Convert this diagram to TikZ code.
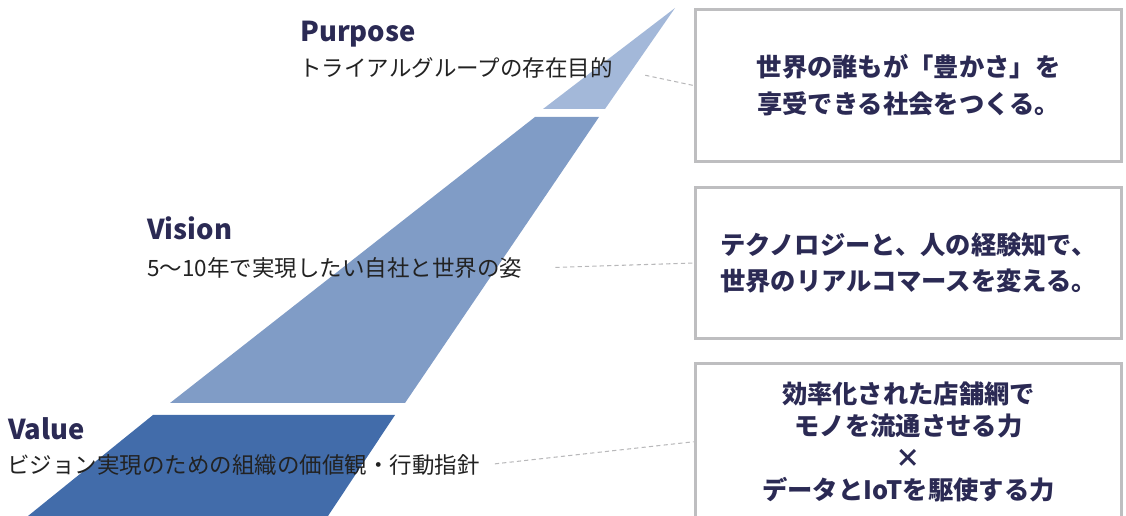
\documentclass[tikz,border=0pt]{standalone}
\usepackage{fontspec}
\setmainfont{Noto Sans CJK JP}
\definecolor{navy}{HTML}{2B2A54}
\definecolor{inkgray}{HTML}{222222}
\definecolor{boxgray}{HTML}{BEBEC0}
\definecolor{linegray}{HTML}{B8B8BA}
\definecolor{purposeblue}{HTML}{A3B8D9}
\definecolor{visionblue}{HTML}{809CC6}
\definecolor{valueblue}{HTML}{426CAA}
\tikzset{
  headline/.style={anchor=base west, inner sep=0pt, text=navy,
    font=\fontsize{15.6}{18}\selectfont\bfseries},
  caption/.style={anchor=base west, inner sep=0pt, text=inkgray,
    font=\fontsize{12.8}{15}\selectfont},
  statement/.style={draw=boxgray, line width=1.7pt, fill=white, text=navy,
    align=center, inner sep=0pt, minimum width=8.54cm,
    font=\fontsize{14.4}{#1}\selectfont\bfseries},
  statement/.default=21pt,
  leader/.style={draw=linegray, line width=0.6pt, dash pattern=on 2.4pt off 1.8pt}
}
\begin{document}
\begin{tikzpicture}[x=0.02cm,y=-0.02cm]
\newcommand{\boxx}{908.5}
\useasboundingbox (0,0) rectangle (1126,516);

\fill [purposeblue] (675,8) -- (605,109) -- (543,109) -- cycle;
\fill [visionblue] (535,117) -- (599,117) -- (405,403) -- (170,403) -- cycle;
\fill [valueblue] (153,415) -- (395,415) -- (328,516) -- (28,516) -- cycle;

\node (ptitle) [headline] at (300,42) {Purpose};
\node (psub) [caption] at (299,77) {トライアルグループの存在目的};
\node (vtitle) [headline] at (147,240) {Vision};
\node (vsub) [caption] at (147,277) {5〜10年で実現したい自社と世界の姿};
\node (ltitle) [headline] at (8,440) {Value};
\node (lsub) [caption] at (7,474) {ビジョン実現のための組織の価値観・行動指針};

\node (pbox) [statement, minimum height=3.04cm] at (\boxx,85.5)
  {世界の誰もが「豊かさ」を\\享受できる社会をつくる。};
\node (vbox) [statement, minimum height=3.02cm] at (\boxx,263)
  {テクノロジーと、人の経験知で、\\世界のリアルコマースを変える。};
\node (lbox) [statement=18.1pt, minimum height=3.13cm] at (\boxx,441.75)
  {効率化された店舗網で\\モノを流通させる力\\×\\データとIoTを駆使する力};

\draw [leader, shorten <=0.66cm] (psub.east) -- (pbox.west);
\draw [leader, shorten <=0.66cm] (vsub.east) -- (vbox.west);
\draw [leader, shorten <=0.3cm] (lsub.east) -- (lbox.west);
\end{tikzpicture}
\end{document}
